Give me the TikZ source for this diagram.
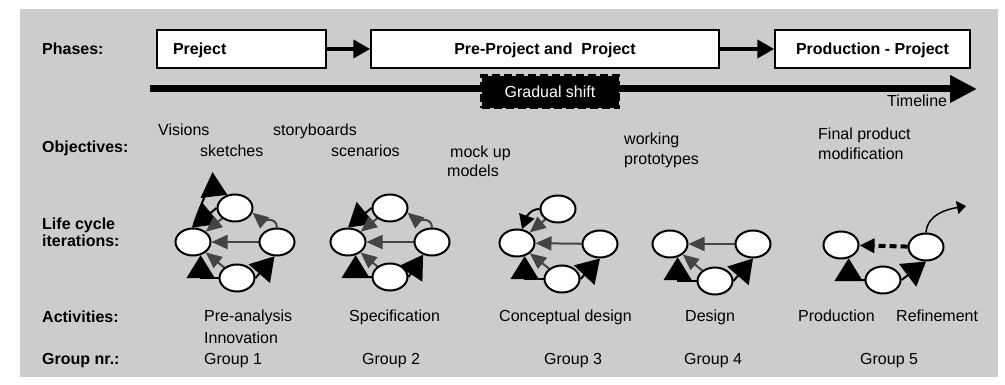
\documentclass[tikz,border=0pt]{standalone}
\usepackage{fontspec}
\setmainfont{Liberation Sans}
\usetikzlibrary{shapes,arrows.meta}
\definecolor{panel}{RGB}{204,204,204}
\definecolor{arrowgray}{RGB}{68,68,68}
\pgfdeclarelayer{back}
\pgfsetlayers{back,main}

\begin{document}
\begin{tikzpicture}[x=1pt, y=1pt,
	every node/.style={font=\fontsize{16pt}{19pt}\selectfont, inner sep=0pt},
	rowname/.style={anchor=base west, font=\fontsize{16pt}{19pt}\selectfont\bfseries},
	txt/.style={anchor=base west},
	phase/.style={rectangle, draw=black, fill=white, line width=1.5pt, minimum height=38pt, text height=11.5pt, text depth=0pt, font=\fontsize{16pt}{19pt}\selectfont\bfseries},
	cycle/.style={ellipse, draw=black, fill=white, line width=2pt, minimum width=35pt, minimum height=27pt},
	phasearrow/.style={line width=4pt, -{Triangle[length=17pt,width=18pt]}},
	grayarrow/.style={draw=arrowgray, line width=2pt, -{Triangle[length=16pt,width=14pt]}},
	blackarrow/.style={draw=black, line width=2pt, -{Triangle[length=23pt,width=28pt]}}]
	\begin{pgfonlayer}{back}
		\fill[panel] (20,8) rectangle (998,376);
	\end{pgfonlayer}
	\useasboundingbox (0,0) rectangle (1005,385);

	\node [rowname] (phases) at (42,330) {Phases:};
	\node [phase, minimum width=169pt, text width=137pt, inner xsep=16pt, align=left] (prj) at (241.5,336) {Preject};
	\node [phase, minimum width=348pt] (pre) at (545,336) {Pre-Project and\ \ Project};
	\node [phase, minimum width=195pt] (prod) at (872.5,336) {Production - Project};
	\draw [phasearrow] (prj) -- (pre);
	\draw [phasearrow] (pre) -- (prod);

	\coordinate (tlstart) at (150,296);
	\coordinate (tlend) at (977,296);
	\draw [line width=7pt, -{Triangle[length=27pt,width=26pt]}] (tlstart) -- (tlend);
	\node [fill=black, draw=black, line width=3pt, dash pattern=on 8pt off 4pt, minimum width=137pt, minimum height=32pt, text=white, text height=11.5pt, text depth=0pt] (shift) at (550,293) {Gradual shift};
	\node [txt] (timeline) at (887,278) {Timeline};

	\node [rowname] (objectives) at (42,232) {Objectives:};
	\node [txt] (visions) at (158,249) {Visions};
	\node [txt] (storyboards) at (273,249) {storyboards};
	\node [txt] (sketches) at (200,228) {sketches};
	\node [txt] (scenarios) at (331,228) {scenarios};
	\node [txt] (mockup) at (450,227) {mock up};
	\node [txt] (models) at (447,208) {models};
	\node [txt] (working) at (624,240) {working};
	\node [txt] (prototypes) at (624,220) {prototypes};
	\node [txt] (finalproduct) at (818,245) {Final product};
	\node [txt] (modification) at (818,225) {modification};

	\node [rowname] (lifecycle) at (42,155) {Life cycle};
	\node [rowname] (iterations) at (42,138) {iterations:};

	\node [cycle] (l1) at (193,143) {};
	\node [cycle] (t1) at (235,177) {};
	\node [cycle] (r1) at (277,143) {};
	\node [cycle] (b1) at (237,107) {};
	\node [cycle] (l2) at (348,143) {};
	\node [cycle] (t2) at (390,177) {};
	\node [cycle] (r2) at (432,143) {};
	\node [cycle] (b2) at (390,108) {};
	\node [cycle] (l3) at (517,142) {};
	\node [cycle] (t3) at (558,176) {};
	\node [cycle] (r3) at (600,141) {};
	\node [cycle] (b3) at (562,106) {};
	\node [cycle] (l4) at (670,141) {};
	\node [cycle] (r4) at (753,141) {};
	\node [cycle] (b4) at (715,104) {};
	\node [cycle] (l5) at (841,140) {};
	\node [cycle] (r5) at (926,138) {};
	\node [cycle] (b5) at (883,105) {};
	\coordinate (out5) at (966,179);

	\begin{pgfonlayer}{back}
		\draw [blackarrow] (l1.north) to[out=75,in=155] (t1.120);
		\draw [blackarrow] (t1.west) -- (l1.north);
		\draw [blackarrow] (b1.west) -| (l1.-60);
		\draw [blackarrow] (b1.east) -- (r1.260);
		\draw [grayarrow] (r1) -- (l1);
		\draw [grayarrow] (t1) -- (l1);
		\draw [grayarrow] (b1) -- (l1);
		\draw [grayarrow] (r1.north) to[out=90,in=-40] (t1.-15);

		\draw [blackarrow] (t2.west) -- (l2.north);
		\draw [blackarrow] (b2.west) -| (l2.-60);
		\draw [blackarrow] (b2.east) -- (r2.235);
		\draw [grayarrow] (r2) -- (l2);
		\draw [grayarrow] (t2) -- (l2);
		\draw [grayarrow] (b2) -- (l2);
		\draw [grayarrow] (r2.north) to[out=90,in=-40] (t2.-15);

		\draw [blackarrow, -{Triangle[length=14pt,width=16pt]}] (t3.west) to[out=180,in=70] (l3.70);
		\draw [blackarrow] (b3.west) -| (l3.-60);
		\draw [blackarrow] (b3.east) -- (r3.south);
		\draw [grayarrow] (r3) -- (l3);
		\draw [grayarrow] (t3) -- (l3);
		\draw [grayarrow] (b3) -- (l3);

		\draw [blackarrow] (b4.west) -| (l4.-60);
		\draw [blackarrow] (b4.east) -- (r4.south);
		\draw [grayarrow] (r4) -- (l4);
		\draw [grayarrow] (b4) -- (l4);

		\draw [blackarrow] (b5.west) -| (l5.-60);
		\draw [blackarrow] (b5.east) -- (r5.south);
		\draw [line width=4pt, dash pattern=on 7pt off 4pt, -{Triangle[length=15pt,width=14pt]}] (r5) -- (l5);
		\draw [line width=1.5pt, -{Triangle[length=9pt,width=13pt]}] (r5.north) to[out=85,in=190] (out5);
	\end{pgfonlayer}

	\node [rowname] (activities) at (42,62) {Activities:};
	\node [txt] (preanalysis) at (204,63) {Pre-analysis};
	\node [txt] (innovation) at (204,41) {Innovation};
	\node [txt] (specification) at (349,63) {Specification};
	\node [txt] (conceptual) at (499,63) {Conceptual design};
	\node [txt] (design) at (685,63) {Design};
	\node [txt] (production) at (798,63) {Production};
	\node [txt] (refinement) at (896,63) {Refinement};

	\node [rowname] (groupnr) at (42,20) {Group nr.:};
	\node [txt] (group1) at (204,20) {Group 1};
	\node [txt] (group2) at (362,20) {Group 2};
	\node [txt] (group3) at (544,20) {Group 3};
	\node [txt] (group4) at (684,20) {Group 4};
	\node [txt] (group5) at (860,20) {Group 5};
\end{tikzpicture}
\end{document}
